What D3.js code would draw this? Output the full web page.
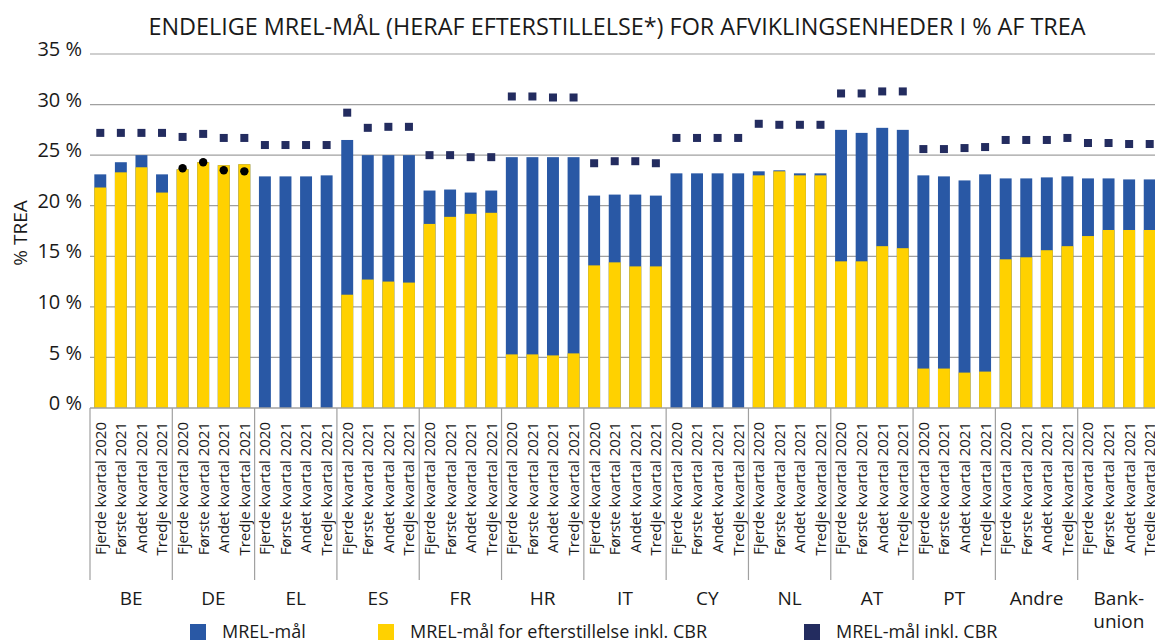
<!DOCTYPE html>
<html>
<head>
<meta charset="utf-8">
<script src="https://cdn.jsdelivr.net/npm/d3@7"></script>
<style>
  body { margin: 0; background: #fff; }
  text { font-family: "Open Sans", "Noto Sans", sans-serif; fill: #1a1a1a; }
</style>
</head>
<body>
<div id="chart"></div>
<script>
var groups = ["BE", "DE", "EL", "ES", "FR", "HR", "IT", "CY", "NL", "AT", "PT", "Andre", "Bank-union"];
var quarters = ["Fjerde kvartal 2020", "Første kvartal 2021", "Andet kvartal 2021", "Tredje kvartal 2021"];
var yTicks = [0, 5, 10, 15, 20, 25, 30, 35];

// MREL-mål (total bar height)
var mrel = [
    23.1, 24.3, 25.0, 23.1,
    23.6, 24.3, 24.0, 24.1,
    22.9, 22.9, 22.9, 23.0,
    26.5, 25.0, 25.0, 25.0,
    21.5, 21.6, 21.3, 21.5,
    24.8, 24.8, 24.8, 24.8,
    21.0, 21.1, 21.1, 21.0,
    23.2, 23.2, 23.2, 23.2,
    23.4, 23.5, 23.2, 23.2,
    27.5, 27.2, 27.7, 27.5,
    23.0, 22.9, 22.5, 23.1,
    22.7, 22.7, 22.8, 22.9,
    22.7, 22.7, 22.6, 22.6
];
// MREL-mål for efterstillelse inkl. CBR
var sub = [
    21.8, 23.3, 23.8, 21.3,
    23.6, 24.3, 24.0, 24.1,
    0, 0, 0, 0,
    11.2, 12.7, 12.5, 12.4,
    18.2, 18.9, 19.2, 19.3,
    5.3, 5.3, 5.2, 5.4,
    14.1, 14.4, 14.0, 14.0,
    0, 0, 0, 0,
    23.0, 23.4, 23.0, 23.0,
    14.5, 14.5, 16.0, 15.8,
    3.9, 3.9, 3.5, 3.6,
    14.7, 14.9, 15.6, 16.0,
    17.0, 17.6, 17.6, 17.6
];
// MREL-mål inkl. CBR
var cbr = [
    27.2, 27.2, 27.2, 27.2,
    26.8, 27.1, 26.7, 26.7,
    26.0, 26.0, 26.0, 26.0,
    29.2, 27.7, 27.8, 27.8,
    25.0, 25.0, 24.8, 24.8,
    30.8, 30.8, 30.7, 30.7,
    24.2, 24.4, 24.4, 24.2,
    26.7, 26.7, 26.7, 26.7,
    28.1, 28.0, 28.0, 28.0,
    31.1, 31.1, 31.3, 31.3,
    25.6, 25.6, 25.7, 25.8,
    26.5, 26.5, 26.5, 26.7,
    26.2, 26.2, 26.1, 26.1
];
// black markers shown for DE only
var dots = [
    null, null, null, null,
    23.7, 24.3, 23.5, 23.4
];

var blue = "#2958a5", yellow = "#ffd100", navy = "#232c5f";

var data = [];
groups.forEach(function(g, gi) {
    quarters.forEach(function(q, qi) {
        var i = gi * 4 + qi;
        data.push({ key: g + "|" + q, group: g, quarter: q, mrel: mrel[i], sub: sub[i], cbr: cbr[i], dot: dots[i] == null ? null : dots[i] });
    });
});

var width = 1155, height = 641;
var plotLeft = 90, plotRight = 1160, plotTop = 54, plotBottom = 408;

var svg = d3.select("#chart").append("svg")
    .attr("width", width)
    .attr("height", height);

var x = d3.scaleBand()
    .domain(data.map(function(d) { return d.key; }))
    .range([plotLeft, plotRight])
    .paddingInner(0.42)
    .paddingOuter(0.21);

var y = d3.scaleLinear().domain([0, 35]).range([plotBottom, plotTop]);

// grid
svg.append("g").selectAll("line").data(yTicks.slice(1)).enter().append("line")
    .attr("x1", plotLeft).attr("x2", plotRight)
    .attr("y1", function(d) { return y(d); })
    .attr("y2", function(d) { return y(d); })
    .attr("stroke", "#a0a0a0").attr("stroke-width", 1.2);

// y axis labels
var yAxis = svg.append("g")
    .attr("transform", "translate(" + plotLeft + ",0)")
    .call(d3.axisLeft(y).tickValues(yTicks).tickSize(0).tickPadding(8).tickFormat(function(d) { return d + " %"; }));
yAxis.select(".domain").remove();
yAxis.selectAll("text")
    .attr("dy", "0.08em")
    .style("font-size", "20px")
    .style("font-family", "'Open Sans', sans-serif")
    .style("fill", "#1a1a1a");

svg.append("text")
    .attr("transform", "translate(27," + ((plotTop + plotBottom) / 2 + 2) + ") rotate(-90)")
    .attr("text-anchor", "middle")
    .style("font-size", "19px")
    .text("% TREA");

// bars
svg.append("g").selectAll("rect").data(data).enter().append("rect")
    .attr("x", function(d) { return x(d.key); })
    .attr("width", x.bandwidth())
    .attr("y", function(d) { return y(d.mrel); })
    .attr("height", function(d) { return y(0) - y(d.mrel); })
    .attr("fill", blue);

svg.append("g").selectAll("rect").data(data.filter(function(d) { return d.sub > 0; })).enter().append("rect")
    .attr("x", function(d) { return x(d.key); })
    .attr("width", x.bandwidth())
    .attr("y", function(d) { return y(d.sub); })
    .attr("height", function(d) { return y(0) - y(d.sub); })
    .attr("fill", yellow);

// CBR markers
svg.append("g").selectAll("rect").data(data).enter().append("rect")
    .attr("x", function(d) { return x(d.key) + x.bandwidth() / 2 - 4; })
    .attr("y", function(d) { return y(d.cbr) - 4; })
    .attr("width", 8).attr("height", 8)
    .attr("fill", navy);

svg.append("g").selectAll("circle").data(data.filter(function(d) { return d.dot != null; })).enter().append("circle")
    .attr("cx", function(d) { return x(d.key) + x.bandwidth() / 2; })
    .attr("cy", function(d) { return y(d.dot); })
    .attr("r", 4.2)
    .attr("fill", "#000");

// x axis line
svg.append("line")
    .attr("x1", plotLeft).attr("x2", plotRight)
    .attr("y1", plotBottom).attr("y2", plotBottom)
    .attr("stroke", "#a0a0a0").attr("stroke-width", 1.5);

// quarter labels
var xAxis = svg.append("g")
    .attr("transform", "translate(0," + plotBottom + ")")
    .call(d3.axisBottom(x).tickSize(0).tickFormat(function(k) { return k.split("|")[1]; }));
xAxis.select(".domain").remove();
xAxis.selectAll("text")
    .attr("transform", "rotate(-90)")
    .attr("text-anchor", "end")
    .attr("x", -14)
    .attr("y", 0)
    .attr("dy", "0.36em")
    .style("font-size", "15px")
    .style("font-family", "'Open Sans', sans-serif")
    .style("fill", "#1a1a1a");

// group separators
var gx = d3.scaleLinear().domain([0, groups.length]).range([plotLeft, plotRight]);
svg.append("g").selectAll("line").data(d3.range(groups.length + 1)).enter().append("line")
    .attr("x1", function(d) { return gx(d); })
    .attr("x2", function(d) { return gx(d); })
    .attr("y1", plotBottom).attr("y2", 580)
    .attr("stroke", "#a0a0a0").attr("stroke-width", 1.2);

// group labels
var gl = svg.append("g").selectAll("text").data(groups).enter().append("text")
    .attr("x", function(d, i) { return gx(i + 0.5); })
    .attr("y", 605)
    .attr("text-anchor", "middle")
    .style("font-size", "19px");
gl.each(function(d) {
    var t = d3.select(this);
    var parts = d.indexOf("-") > 0 ? [d.split("-")[0] + "-", d.split("-")[1]] : [d];
    parts.forEach(function(p, j) {
        t.append("tspan").attr("x", t.attr("x")).attr("dy", j === 0 ? 0 : "1.2em").text(p);
    });
});

// title
svg.append("text")
    .attr("x", 617).attr("y", 35)
    .attr("text-anchor", "middle")
    .style("font-size", "23.4px")
    .text("ENDELIGE MREL-MÅL (HERAF EFTERSTILLELSE*) FOR AFVIKLINGSENHEDER I % AF TREA");

// legend
var legend = [
    { label: "MREL-mål", color: blue, x: 190 },
    { label: "MREL-mål for efterstillelse inkl. CBR", color: yellow, x: 378 },
    { label: "MREL-mål inkl. CBR", color: navy, x: 804 }
];
var lg = svg.append("g").selectAll("g").data(legend).enter().append("g")
    .attr("transform", function(d) { return "translate(" + d.x + ",624)"; });
lg.append("rect").attr("width", 16).attr("height", 16).attr("fill", function(d) { return d.color; });
lg.append("text").attr("x", 32).attr("y", 14).style("font-size", "18px").text(function(d) { return d.label; });
</script>
</body>
</html>
